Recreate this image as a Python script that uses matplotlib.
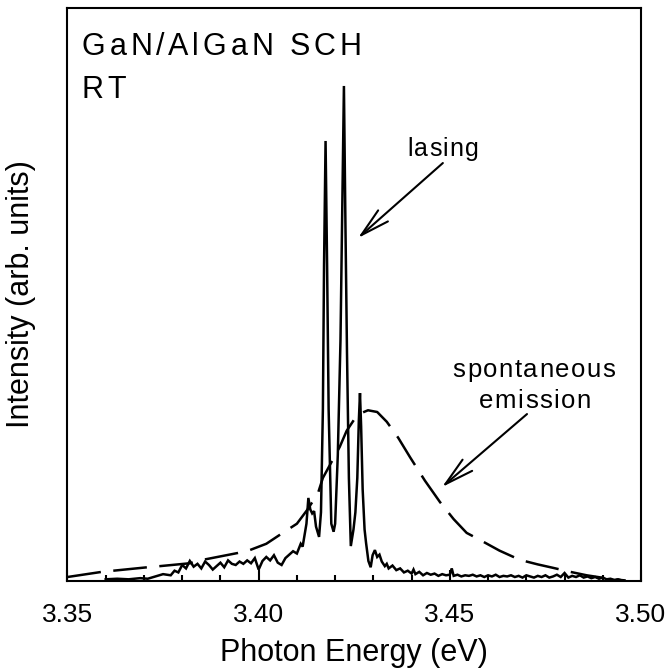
import matplotlib
matplotlib.use('Agg')
import matplotlib.pyplot as plt
from matplotlib.ticker import MultipleLocator, FormatStrFormatter
from matplotlib.font_manager import FontProperties, findfont
from matplotlib.ft2font import FT2Font

FAMILY = 'Liberation Sans'
plt.rcParams['font.family'] = [FAMILY, 'DejaVu Sans']

# ---- data ----
lasing_energy = [
    3.360, 3.363, 3.366, 3.369, 3.371, 3.373, 3.375, 3.377, 3.378, 3.379,
    3.380, 3.381, 3.382, 3.383, 3.384, 3.385, 3.386, 3.387, 3.388, 3.389,
    3.390, 3.391, 3.392, 3.393, 3.394, 3.395, 3.396, 3.397, 3.398, 3.399,
    3.400, 3.401, 3.402, 3.403, 3.404, 3.405, 3.406, 3.407, 3.408, 3.409,
    3.410, 3.411, 3.4115, 3.412, 3.4125, 3.413, 3.4135, 3.414, 3.4145, 3.415,
    3.4158, 3.4163, 3.4168, 3.4171, 3.4175, 3.4179, 3.4183, 3.4190, 3.4196,
    3.4200, 3.4207, 3.4214, 3.4218, 3.4223, 3.4227, 3.4231, 3.4236, 3.4241,
    3.4248, 3.4253, 3.4258, 3.4262, 3.4265, 3.4268, 3.4272, 3.4277, 3.4281,
    3.4287, 3.4293, 3.4298, 3.4304, 3.4310, 3.4316, 3.4322,
    3.433, 3.4335, 3.434, 3.435, 3.436, 3.437, 3.438, 3.439, 3.440, 3.4405,
    3.441, 3.442, 3.443, 3.444, 3.445, 3.446, 3.447, 3.448, 3.449, 3.450,
    3.4505, 3.451, 3.452, 3.453, 3.454, 3.455, 3.456, 3.457, 3.458, 3.459,
    3.460, 3.461, 3.462, 3.463, 3.464, 3.465, 3.466, 3.467, 3.468, 3.469,
    3.470, 3.471, 3.472, 3.473, 3.474, 3.475, 3.476, 3.477, 3.478, 3.479,
    3.480, 3.481, 3.482, 3.483, 3.484, 3.485, 3.486, 3.487, 3.488, 3.489,
    3.490, 3.491, 3.492, 3.493, 3.494, 3.495,
]
lasing_intensity = [
    0.003, 0.004, 0.003, 0.005, 0.004, 0.008, 0.012, 0.010, 0.018, 0.015,
    0.028, 0.022, 0.035, 0.025, 0.030, 0.022, 0.034, 0.028, 0.020, 0.026,
    0.032, 0.024, 0.036, 0.030, 0.028, 0.034, 0.030, 0.036, 0.031, 0.040,
    0.020, 0.035, 0.042, 0.036, 0.045, 0.032, 0.028, 0.040, 0.046, 0.052,
    0.048, 0.065, 0.060, 0.080, 0.100, 0.145, 0.125, 0.118, 0.122, 0.095,
    0.077, 0.120, 0.300, 0.550, 0.768, 0.550, 0.300, 0.100, 0.086,
    0.100, 0.220, 0.420, 0.620, 0.864, 0.620, 0.400, 0.180, 0.061,
    0.090, 0.120, 0.180, 0.280, 0.328, 0.270, 0.160, 0.090, 0.066,
    0.035, 0.024, 0.045, 0.054, 0.042, 0.046, 0.034,
    0.026, 0.030, 0.022, 0.027, 0.019, 0.022, 0.015, 0.018, 0.013, 0.020,
    0.012, 0.016, 0.010, 0.014, 0.011, 0.013, 0.009, 0.012, 0.010, 0.011,
    0.022, 0.009, 0.011, 0.008, 0.010, 0.009, 0.011, 0.008, 0.010, 0.007,
    0.010, 0.008, 0.011, 0.007, 0.009, 0.008, 0.010, 0.007, 0.009, 0.006,
    0.010, 0.008, 0.006, 0.009, 0.007, 0.010, 0.006, 0.008, 0.011, 0.007,
    0.014, 0.006, 0.009, 0.007, 0.010, 0.006, 0.008, 0.005, 0.007, 0.004,
    0.006, 0.003, 0.004, 0.002, 0.003, 0.001,
]

spont_energy = [
    3.350, 3.359, 3.3709, 3.3742, 3.382, 3.3854, 3.3946, 3.3977, 3.402, 3.4063,
    3.410, 3.4128, 3.4155, 3.4168, 3.419, 3.4212, 3.423, 3.425, 3.4268, 3.4286,
    3.431, 3.4335, 3.4365, 3.4396, 3.4435, 3.4474, 3.451, 3.4544, 3.4578, 3.463,
    3.4683, 3.473, 3.477, 3.4815, 3.4858, 3.4926, 3.496,
]
spont_intensity = [
    0.007, 0.016, 0.024, 0.026, 0.031, 0.037, 0.049, 0.054, 0.065, 0.084,
    0.100, 0.125, 0.153, 0.180, 0.207, 0.234, 0.262, 0.282, 0.293, 0.298,
    0.295, 0.278, 0.250, 0.216, 0.175, 0.138, 0.108, 0.084, 0.072, 0.053,
    0.037, 0.029, 0.023, 0.016, 0.010, 0.003, 0.001,
]

x_ticks = [3.35, 3.40, 3.45, 3.50]
x_label = 'Photon Energy (eV)'
y_label = 'Intensity (arb. units)'
title_lines = ['GaN/AlGaN SCH', 'RT']

# ---- figure ----
fig = plt.figure(figsize=(6.72, 6.70), dpi=100)
ax = fig.add_axes([0.1004, 0.1328, 0.8535, 0.8552])

ax.plot(lasing_energy, lasing_intensity, color='black', lw=1.8,
        solid_joinstyle='miter')
sp, = ax.plot(spont_energy, spont_intensity, color='black', lw=1.8)
sp.set_dashes([13.5, 5])

ax.set_xlim(3.35, 3.50)
ax.set_ylim(0, 1)
ax.set_xticks(x_ticks)
ax.xaxis.set_minor_locator(MultipleLocator(0.01))
ax.xaxis.set_major_formatter(FormatStrFormatter('%.2f'))
ax.set_yticks([])
ax.tick_params(axis='x', which='major', direction='in', length=8, width=1.5,
               pad=16, labelsize=19)
ax.tick_params(axis='x', which='minor', direction='in', length=4.3, width=1.5)
for s in ax.spines.values():
    s.set_linewidth(1.5)

ax.set_xlabel(x_label, fontsize=22, labelpad=8)
ax.set_ylabel(y_label, fontsize=22)
ax.yaxis.set_label_coords(-0.055, 0.5)


def tracked(s, xy, size, track_pt, align='left'):
    prop = FontProperties(family=FAMILY, size=size)
    font = FT2Font(findfont(prop))
    font.set_size(size, 72)
    advs = [font.load_char(ord(c)).linearHoriAdvance / 65536.0 for c in s]
    total = sum(advs) + track_pt * (len(s) - 1)
    off = 0.0 if align == 'left' else -total / 2.0
    for c, a in zip(s, advs):
        if c != ' ':
            ax.annotate(c, xy=xy, xycoords='axes fraction', xytext=(off, 0),
                        textcoords='offset points', ha='left', va='baseline',
                        fontsize=size, fontfamily=FAMILY)
        off += a + track_pt


tracked(title_lines[0], (0.0253, 0.918), 22, 2.7)
tracked(title_lines[1], (0.0253, 0.843), 22, 2.7)
tracked('lasing', (0.592, 0.7417), 18, 0.9)
tracked('spontaneous', (0.8134, 0.356), 18.5, 1.1, align='center')
tracked('emission', (0.815, 0.302), 18.5, 1.1, align='center')

arrow = dict(arrowstyle='->,head_length=2.1,head_width=0.53', lw=1.5,
             color='black', shrinkA=0, shrinkB=0, mutation_scale=10)
ax.annotate('', xy=(0.5065, 0.5986), xytext=(0.6545, 0.7295),
            xycoords='axes fraction', textcoords='axes fraction',
            arrowprops=arrow)
ax.annotate('', xy=(0.6530, 0.164), xytext=(0.8012, 0.2914),
            xycoords='axes fraction', textcoords='axes fraction',
            arrowprops=arrow)

fig.savefig('out.png', dpi=100)
